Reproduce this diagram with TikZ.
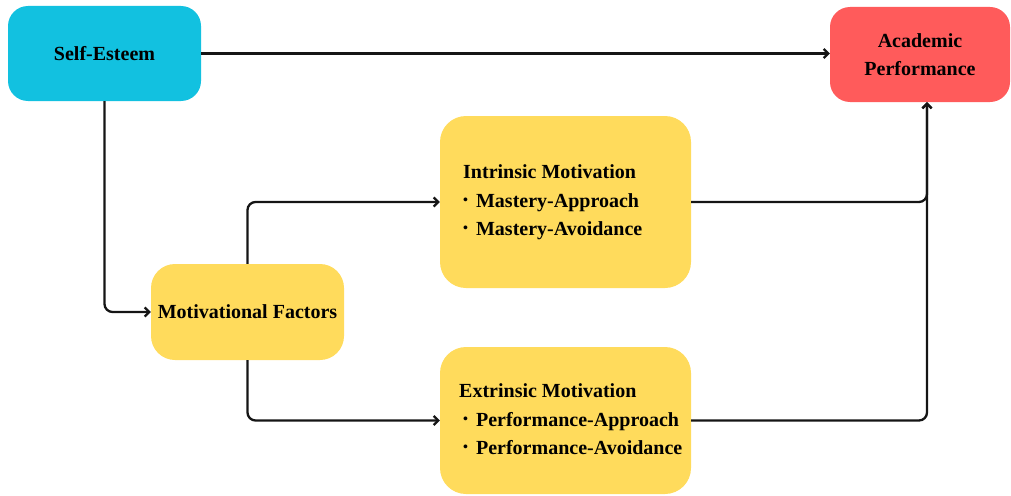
\documentclass[tikz,border=0pt]{standalone}
\usepackage{fontspec}
\setmainfont{Liberation Serif}
\usetikzlibrary{arrows.meta}
\definecolor{esteemblue}{HTML}{12C1E0}
\definecolor{perfred}{HTML}{FF5B5B}
\definecolor{motyellow}{HTML}{FFDB5C}
\definecolor{linegray}{HTML}{151515}
\newcommand{\dotitem}{{\fontsize{14}{14}\selectfont\raisebox{2.5pt}{\textbullet}}\hspace{8pt}}
\begin{document}
\begin{tikzpicture}[x=1pt,y=-1pt,
  box/.style={rectangle, rounded corners=20pt, draw=none, inner sep=0pt,
    align=center, font=\bfseries\fontsize{20}{28}\selectfont},
  bigbox/.style={box, rounded corners=26pt, fill=motyellow},
  txt/.style={inner sep=0pt, anchor=base west, font=\bfseries\fontsize{20}{28}\selectfont},
  conn/.style={draw=linegray, line width=2.3pt, rounded corners=8pt},
  arr/.style={conn, -{Straight Barb[length=4.5pt,width=9pt]}}]
\useasboundingbox (0,0) rectangle (1011,495);

% boxes
\node[box, fill=esteemblue, minimum width=193pt, minimum height=95pt] (se) at (104.5,53.5) {Self-Esteem};
\node[box, fill=perfred, minimum width=180pt, minimum height=95pt] (ap) at (920,54.5) {Academic\\Performance};
\node[bigbox, rounded corners=24pt, minimum width=193pt, minimum height=96pt] (mf) at (247.5,312) {Motivational Factors};
\node[bigbox, minimum width=251pt, minimum height=172pt] (im) at (565.5,202) {};
\node[bigbox, minimum width=251pt, minimum height=147pt] (em) at (565.5,420.5) {};

% box contents
\node[txt] (imtitle) at (463,178) {Intrinsic Motivation};
\node[txt] (ima) at (463,207) {\dotitem Mastery-Approach};
\node[txt] (imb) at (463,235) {\dotitem Mastery-Avoidance};
\node[txt] (emtitle) at (459,397) {Extrinsic Motivation};
\node[txt] (ema) at (463,426) {\dotitem Performance-Approach};
\node[txt] (emb) at (463,454) {\dotitem Performance-Avoidance};

% connectors
\coordinate (join) at ([xshift=7pt]ap.south);
\draw[arr] (se.east) -- (se.east -| ap.west);
\draw[arr] (se.south) |- (mf.west);
\draw[arr] (mf.north) |- (im.west);
\draw[arr] (mf.south) |- (em.west);
\draw[arr] (im.east) -| (join);
\draw[arr] (em.east) -| (join);
\end{tikzpicture}
\end{document}
